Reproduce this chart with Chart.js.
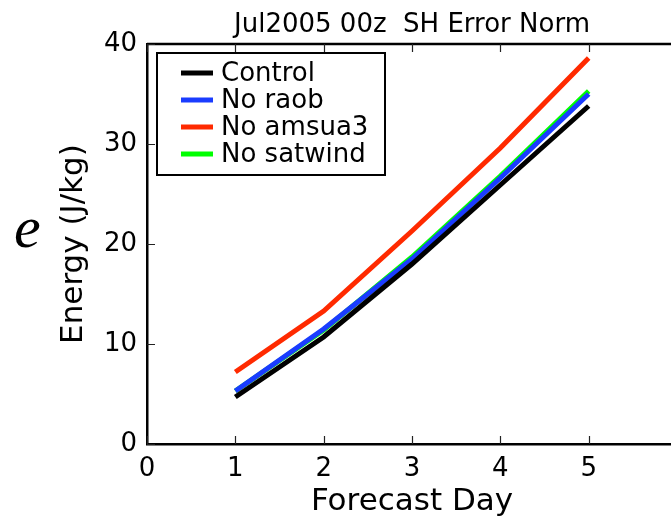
<!DOCTYPE html>
<html>
<head>
<meta charset="utf-8">
<script src="https://cdn.jsdelivr.net/npm/chart.js@4.4.0/dist/chart.umd.min.js"></script>
<style>
  html, body { margin: 0; padding: 0; background: #fff; overflow: hidden; }
  #wrap { width: 700px; height: 516px; }
</style>
</head>
<body>
<div id="wrap"><canvas id="chart" width="700" height="516"></canvas></div>
<script>
// --- data ---
const days = [1, 2, 3, 4, 5];
const control = [4.7, 10.7, 18.0, 25.9, 33.8];
const noRaob = [5.3, 11.5, 18.5, 26.6, 35.0];
const noAmsua3 = [7.2, 13.3, 21.3, 29.6, 38.6];
const noSatwind = [5.3, 11.4, 18.7, 26.8, 35.3];

const xTicks = [0, 1, 2, 3, 4, 5];
const yTicks = [0, 10, 20, 30, 40];

const titleText = "Jul2005 00z  SH Error Norm";
const xTitle = "Forecast Day";
const yTitle = "Energy (J/kg)";

const FONT = "'DejaVu Sans', sans-serif";

function series(label, values, color) {
  return {
    label: label,
    data: days.map((d, i) => ({ x: d, y: values[i] })),
    borderColor: color,
    backgroundColor: color,
    borderWidth: 5,
    pointRadius: 0,
    tension: 0,
    fill: false
  };
}

// --- inward ticks, top spine, titles, legend ---
const decorations = {
  id: "decorations",
  afterDraw(chart) {
    const c = chart.ctx;
    const a = chart.chartArea;
    const xs = chart.scales.x;
    const ys = chart.scales.y;
    c.save();

    // top spine
    c.strokeStyle = "#000";
    c.lineWidth = 2.5;
    c.beginPath();
    c.moveTo(a.left, a.top);
    c.lineTo(a.right, a.top);
    c.stroke();

    // inward ticks
    c.strokeStyle = "#222";
    c.lineWidth = 1.2;
    c.beginPath();
    xTicks.forEach(v => {
      const px = Math.round(xs.getPixelForValue(v)) + 0.5;
      c.moveTo(px, a.bottom); c.lineTo(px, a.bottom - 8);
      c.moveTo(px, a.top); c.lineTo(px, a.top + 8);
    });
    yTicks.forEach(v => {
      const py = Math.round(ys.getPixelForValue(v)) + 0.5;
      c.moveTo(a.left, py); c.lineTo(a.left + 8, py);
    });
    c.stroke();

    c.fillStyle = "#000";
    // title
    c.font = "26px " + FONT;
    c.textAlign = "center";
    c.textBaseline = "alphabetic";
    c.fillText(titleText, (a.left + a.right) / 2, 32);

    // x title
    c.font = "31px " + FONT;
    c.fillText(xTitle, (a.left + a.right) / 2, 510);

    // y title
    c.save();
    c.translate(82, (a.top + a.bottom) / 2);
    c.rotate(-Math.PI / 2);
    c.fillText(yTitle, 0, 0);
    c.restore();

    // big italic e
    c.font = "italic 60px 'Liberation Serif', serif";
    c.textAlign = "left";
    c.fillText("e", 14, 247);

    // legend
    const lx = 157, ly = 53, lw = 228, lh = 122;
    c.fillStyle = "#fff";
    c.fillRect(lx, ly, lw, lh);
    c.strokeStyle = "#000";
    c.lineWidth = 2;
    c.strokeRect(lx, ly, lw, lh);
    c.font = "26px " + FONT;
    c.textBaseline = "middle";
    chart.data.datasets.forEach((ds, i) => {
      const y = 73 + i * 27;
      c.strokeStyle = ds.borderColor;
      c.lineWidth = 5;
      c.beginPath();
      c.moveTo(181, y); c.lineTo(213, y);
      c.stroke();
      c.fillStyle = "#000";
      c.fillText(ds.label, 221, y + 1);
    });
    c.restore();
  }
};

const ctx = document.getElementById("chart").getContext("2d");
const chart = new Chart(ctx, {
  type: "line",
  data: {
    datasets: [
      series("Control", control, "#000000"),
      series("No raob", noRaob, "#1a3cff"),
      series("No amsua3", noAmsua3, "#ff2a00"),
      series("No satwind", noSatwind, "#00ff00")
    ]
  },
  options: {
    responsive: false,
    animation: false,
    devicePixelRatio: 1,
    layout: { padding: { left: 0, top: 44, right: 23, bottom: 0 } },
    plugins: {
      legend: { display: false },
      tooltip: { enabled: false }
    },
    scales: {
      x: {
        type: "linear",
        min: 0,
        max: 6,
        afterFit: s => { s.height = 72; },
        afterBuildTicks: s => { s.ticks = xTicks.map(v => ({ value: v })); },
        grid: { display: false, drawTicks: false },
        border: { display: true, color: "#000", width: 2.5 },
        ticks: { color: "#000", font: { family: FONT, size: 26 }, padding: 10, maxRotation: 0 }
      },
      y: {
        min: 0,
        max: 40,
        afterFit: s => { s.width = 147; },
        afterBuildTicks: s => { s.ticks = yTicks.map(v => ({ value: v })); },
        grid: { display: false, drawTicks: false },
        border: { display: true, color: "#000", width: 2.5 },
        ticks: { color: "#000", font: { family: FONT, size: 26 }, padding: 10 }
      }
    }
  },
  plugins: [decorations]
});
</script>
</body>
</html>
